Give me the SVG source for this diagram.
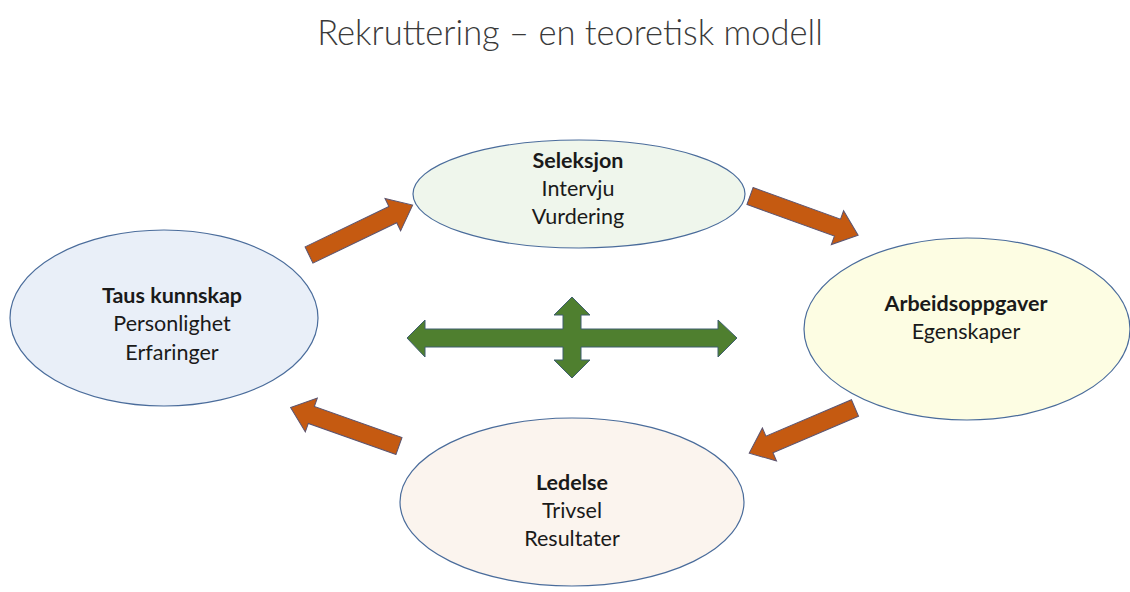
<svg xmlns="http://www.w3.org/2000/svg" width="1130" height="592" viewBox="0 0 1130 592">
<style>
.title{font-family:Lato,"Open Sans",sans-serif;font-size:34.5px;font-weight:300;fill:#3a3a3a;text-anchor:middle}
.node ellipse{stroke:#4a6c9b;stroke-width:1.2}
.t{font-family:Lato,"Open Sans",sans-serif;font-size:21.5px;fill:#1a1a1a;text-anchor:middle}
.b{font-weight:bold}
.orange{fill:#c55a11;stroke:#5b5470;stroke-width:1}
.green{fill:#4f7f2f;stroke:#3f5f6f;stroke-width:1}
</style>
<defs>
<path id="arr" d="M0,-9 L93,-9 L93,-18 L115,0 L93,18 L93,9 L0,9 Z"/>
</defs>
<rect width="1130" height="592" fill="#ffffff"/>
<text class="title" x="570" y="45">Rekruttering – en teoretisk modell</text>
<g id="node-taus" class="node">
<ellipse cx="164" cy="318" rx="154" ry="88" fill="#e9eff8"/>
<text class="t b" x="172" y="303">Taus kunnskap</text>
<text class="t" x="172" y="331">Personlighet</text>
<text class="t" x="172" y="360">Erfaringer</text>
</g>
<g id="node-seleksjon" class="node">
<ellipse cx="579" cy="194" rx="166" ry="54" fill="#eff6ec"/>
<text class="t b" x="578" y="168">Seleksjon</text>
<text class="t" x="578" y="196">Intervju</text>
<text class="t" x="578" y="224">Vurdering</text>
</g>
<g id="node-arbeid" class="node">
<ellipse cx="967" cy="329" rx="163" ry="91" fill="#fdfde3"/>
<text class="t b" x="966" y="311">Arbeidsoppgaver</text>
<text class="t" x="966" y="339">Egenskaper</text>
</g>
<g id="node-ledelse" class="node">
<ellipse cx="572" cy="502" rx="172" ry="84" fill="#fbf4ee"/>
<text class="t b" x="572" y="490">Ledelse</text>
<text class="t" x="572" y="518">Trivsel</text>
<text class="t" x="572" y="546">Resultater</text>
</g>
<g id="connectors">
<use href="#arr" class="orange" transform="translate(309,255) rotate(-25.7)"/>
<use href="#arr" class="orange" transform="translate(750,196) rotate(19.9)"/>
<use href="#arr" class="orange" transform="translate(855,408) rotate(156.9)"/>
<use href="#arr" class="orange" transform="translate(399,446) rotate(199.5)"/>
<path class="green" d="M407,338 L425,320 L425,329 L563,329 L563,315 L554,315 L572,297 L590,315 L581,315 L581,329 L718,329 L718,320 L737,338 L718,357 L718,347 L581,347 L581,360 L590,360 L572,378 L554,360 L563,360 L563,347 L425,347 L425,357 Z"/>
</g>
</svg>
